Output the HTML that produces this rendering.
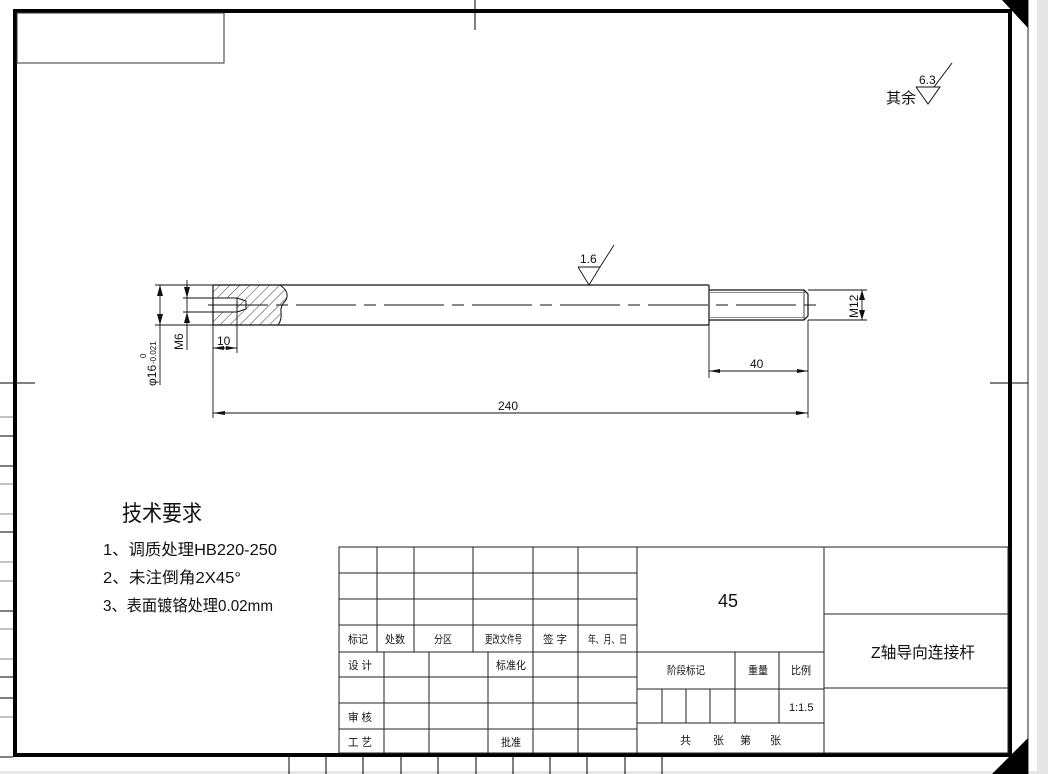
<!DOCTYPE html>
<html><head><meta charset="utf-8"><style>
html,body{margin:0;padding:0;background:#fff;}
svg{display:block;}
text{font-family:"Liberation Sans","Noto Sans CJK SC",sans-serif;fill:#111;}
</style></head><body>
<svg width="1048" height="774" viewBox="0 0 1048 774" xmlns="http://www.w3.org/2000/svg">
<defs>
<pattern id="h" width="7" height="7" patternUnits="userSpaceOnUse" patternTransform="rotate(45)">
<line x1="0" y1="0" x2="0" y2="7" stroke="#222" stroke-width="0.9"/>
</pattern>
</defs>
<rect x="0" y="0" width="1048" height="774" fill="#fff"/>
<rect x="1037" y="0" width="11" height="774" fill="#e6e6e6"/>
<line x1="0" y1="772.5" x2="1037" y2="772.5" stroke="#ddd" stroke-width="2"/>
<line x1="1028" y1="0" x2="1028" y2="774" stroke="#222" stroke-width="1"/>
<polygon points="1002,0 1028,0 1028,28" fill="#000"/>
<polygon points="1028,738 1028,774 992,774" fill="#000"/>
<rect x="15" y="11" width="995" height="744" fill="none" stroke="#000" stroke-width="4"/>
<line x1="475" y1="0" x2="475" y2="30" stroke="#000" stroke-width="1"/>
<line x1="0" y1="383" x2="35" y2="383" stroke="#000" stroke-width="1"/>
<line x1="990" y1="383" x2="1028" y2="383" stroke="#000" stroke-width="1"/>
<g stroke-width="1">
<line x1="0" y1="417" x2="13" y2="417" stroke="#888"/>
<line x1="0" y1="436" x2="13" y2="436" stroke="#000"/>
<line x1="0" y1="466" x2="13" y2="466" stroke="#000"/>
<line x1="0" y1="484" x2="13" y2="484" stroke="#888"/>
<line x1="0" y1="514" x2="13" y2="514" stroke="#888"/>
<line x1="0" y1="532" x2="13" y2="532" stroke="#000"/>
<line x1="0" y1="562" x2="13" y2="562" stroke="#888"/>
<line x1="0" y1="581" x2="13" y2="581" stroke="#888"/>
<line x1="0" y1="611" x2="13" y2="611" stroke="#000"/>
<line x1="0" y1="629" x2="13" y2="629" stroke="#888"/>
<line x1="0" y1="659" x2="13" y2="659" stroke="#888"/>
<line x1="0" y1="677" x2="13" y2="677" stroke="#000"/>
<line x1="0" y1="698" x2="13" y2="698" stroke="#000"/>
<line x1="0" y1="717" x2="13" y2="717" stroke="#888"/>
<line x1="0" y1="757" x2="13" y2="757" stroke="#000"/>
</g>
<g stroke="#000" stroke-width="1">
<line x1="289" y1="757" x2="289" y2="774"/><line x1="326" y1="757" x2="326" y2="774"/>
<line x1="363" y1="757" x2="363" y2="774"/><line x1="401" y1="757" x2="401" y2="774"/>
<line x1="438" y1="757" x2="438" y2="774"/><line x1="476" y1="757" x2="476" y2="774"/>
<line x1="513" y1="757" x2="513" y2="774"/><line x1="550" y1="757" x2="550" y2="774"/>
<line x1="587" y1="757" x2="587" y2="774"/><line x1="625" y1="757" x2="625" y2="774"/>
<line x1="662" y1="757" x2="662" y2="774"/>
</g>
<rect x="17" y="13" width="207" height="50" fill="none" stroke="#333" stroke-width="1"/>
<text x="886" y="103" font-size="15">其余</text>
<polyline points="916,87 940,87 928,104 916,87" fill="none" stroke="#111" stroke-width="1"/>
<line x1="934" y1="87" x2="952" y2="63" stroke="#111" stroke-width="1"/>
<text x="919" y="84" font-size="12">6.3</text>

<g stroke="#111" stroke-width="1.2" fill="none">
<path d="M213,285 L280,285 Q290,292 286,300 Q280,306 281,312 Q282,320 278,325 L213,325 Z M213,298 L237,298 L237,312 L213,312 Z" fill="url(#h)" fill-rule="evenodd" stroke="none"/>
<line x1="213" y1="285" x2="709" y2="285"/>
<line x1="213" y1="325" x2="709" y2="325"/>
<line x1="213" y1="285" x2="213" y2="325"/>
<line x1="709" y1="285" x2="709" y2="325"/>
<path d="M280,285 Q290,292 286,300 Q280,306 281,312 Q282,320 278,325" stroke-width="1"/>
<polyline points="213,298 237,298 246,301 246,309 237,312 213,312" stroke-width="1"/>
<line x1="237" y1="298" x2="237" y2="312" stroke-width="1"/>
<polyline points="709,290 804,290 808,294 808,316 804,320 709,320"/>
<line x1="804" y1="290" x2="804" y2="320" stroke-width="0.8"/>
<line x1="709" y1="292.5" x2="806" y2="292.5" stroke="#888" stroke-width="1"/>
<line x1="709" y1="317.5" x2="806" y2="317.5" stroke="#888" stroke-width="1"/>
</g>
<line x1="208" y1="305" x2="818" y2="305" stroke="#111" stroke-width="1" stroke-dasharray="60,8,12,8"/>

<g stroke="#111" stroke-width="0.9" fill="none">
<line x1="155" y1="285" x2="213" y2="285"/><line x1="155" y1="325" x2="213" y2="325"/>
<line x1="160" y1="285" x2="160" y2="385"/>
<line x1="183" y1="298" x2="213" y2="298"/><line x1="183" y1="312" x2="213" y2="312"/>
<line x1="187" y1="280" x2="187" y2="350"/>
<line x1="213" y1="325" x2="213" y2="418"/>
<line x1="237" y1="312" x2="237" y2="353"/>
<line x1="213" y1="348" x2="237" y2="348"/>
<line x1="808" y1="290" x2="867" y2="290"/><line x1="808" y1="320" x2="867" y2="320"/>
<line x1="862" y1="290" x2="862" y2="320"/>
<line x1="709" y1="325" x2="709" y2="378"/>
<line x1="808" y1="320" x2="808" y2="418"/>
<line x1="709" y1="371" x2="808" y2="371"/>
<line x1="213" y1="413" x2="808" y2="413"/>
<polyline points="578,267 600,267 589,285 578,267"/>
<line x1="600" y1="267" x2="614" y2="245"/>
</g>
<g fill="#111">
<polygon points="160,285 157,296 163,296"/><polygon points="160,325 157,314 163,314"/>
<polygon points="187,298 184,287 190,287"/><polygon points="187,312 184,323 190,323"/>
<polygon points="213,348 224,346 224,350"/><polygon points="237,348 226,346 226,350"/>
<polygon points="862,290 859,300 865,300"/><polygon points="862,320 859,310 865,310"/>
<polygon points="709,371 720,369 720,373"/><polygon points="808,371 797,369 797,373"/>
<polygon points="213,413 225,411 225,415"/><polygon points="808,413 796,411 796,415"/>
</g>
<text x="580" y="263" font-size="12">1.6</text>
<text x="217" y="345" font-size="12">10</text>
<text x="750" y="368" font-size="12">40</text>
<text x="498" y="410" font-size="12">240</text>
<text transform="translate(183,350) rotate(-90)" font-size="12">M6</text>
<text transform="translate(858,318) rotate(-90)" font-size="12">M12</text>
<text transform="translate(156,386) rotate(-90)" font-size="12">φ16</text>
<text transform="translate(156,364) rotate(-90)" font-size="8">-0.021</text>
<text transform="translate(146,358) rotate(-90)" font-size="8">0</text>

<text x="122" y="521" font-size="22" textLength="80" lengthAdjust="spacingAndGlyphs">技术要求</text>
<text x="103" y="555" font-size="16" textLength="174" lengthAdjust="spacingAndGlyphs">1、调质处理HB220-250</text>
<text x="103" y="583" font-size="16" textLength="138" lengthAdjust="spacingAndGlyphs">2、未注倒角2X45°</text>
<text x="103" y="611" font-size="16" textLength="170" lengthAdjust="spacingAndGlyphs">3、表面镀铬处理0.02mm</text>

<g stroke="#222" stroke-width="1" fill="none">
<rect x="339" y="547" width="669" height="206"/>
<line x1="339" y1="573" x2="637" y2="573"/>
<line x1="339" y1="599" x2="637" y2="599"/>
<line x1="339" y1="625" x2="637" y2="625"/>
<line x1="339" y1="652" x2="824" y2="652"/>
<line x1="339" y1="677" x2="637" y2="677"/>
<line x1="339" y1="703" x2="637" y2="703"/>
<line x1="339" y1="729" x2="637" y2="729"/>
<line x1="377" y1="547" x2="377" y2="652"/>
<line x1="414" y1="547" x2="414" y2="652"/>
<line x1="473" y1="547" x2="473" y2="652"/>
<line x1="533" y1="547" x2="533" y2="753"/>
<line x1="578" y1="547" x2="578" y2="753"/>
<line x1="637" y1="547" x2="637" y2="753"/>
<line x1="384" y1="652" x2="384" y2="753"/>
<line x1="429" y1="652" x2="429" y2="753"/>
<line x1="488" y1="652" x2="488" y2="753"/>
<line x1="824" y1="547" x2="824" y2="753"/>
<line x1="637" y1="689" x2="824" y2="689"/>
<line x1="637" y1="723" x2="824" y2="723"/>
<line x1="735" y1="652" x2="735" y2="723"/>
<line x1="779" y1="652" x2="779" y2="723"/>
<line x1="662" y1="689" x2="662" y2="723"/>
<line x1="686" y1="689" x2="686" y2="723"/>
<line x1="710" y1="689" x2="710" y2="723"/>
<line x1="824" y1="614" x2="1008" y2="614"/>
<line x1="824" y1="688" x2="1008" y2="688"/>
</g>
<g font-size="11">
<text x="348" y="643" textLength="20" lengthAdjust="spacingAndGlyphs">标记</text>
<text x="385" y="643" textLength="20" lengthAdjust="spacingAndGlyphs">处数</text>
<text x="434" y="643" textLength="18" lengthAdjust="spacingAndGlyphs">分区</text>
<text x="485" y="643" textLength="37" lengthAdjust="spacingAndGlyphs">更改文件号</text>
<text x="543" y="643" textLength="24" lengthAdjust="spacingAndGlyphs">签 字</text>
<text x="588" y="643" textLength="39" lengthAdjust="spacingAndGlyphs">年、月、日</text>
<text x="348" y="669" textLength="24" lengthAdjust="spacingAndGlyphs">设 计</text>
<text x="496" y="669" textLength="30" lengthAdjust="spacingAndGlyphs">标准化</text>
<text x="348" y="721" textLength="24" lengthAdjust="spacingAndGlyphs">审 核</text>
<text x="348" y="746" textLength="24" lengthAdjust="spacingAndGlyphs">工 艺</text>
<text x="501" y="746" textLength="20" lengthAdjust="spacingAndGlyphs">批准</text>
<text x="667" y="674" textLength="38" lengthAdjust="spacingAndGlyphs">阶段标记</text>
<text x="748" y="674" textLength="20" lengthAdjust="spacingAndGlyphs">重量</text>
<text x="791" y="674" textLength="20" lengthAdjust="spacingAndGlyphs">比例</text>
<text x="789" y="711">1:1.5</text>
<text x="680" y="744">共</text>
<text x="713" y="744">张</text>
<text x="740" y="744">第</text>
<text x="770" y="744">张</text>
</g>
<text x="718" y="607" font-size="18">45</text>
<text x="871" y="658" font-size="16" textLength="104" lengthAdjust="spacingAndGlyphs">Z轴导向连接杆</text>
</svg>
</body></html>
